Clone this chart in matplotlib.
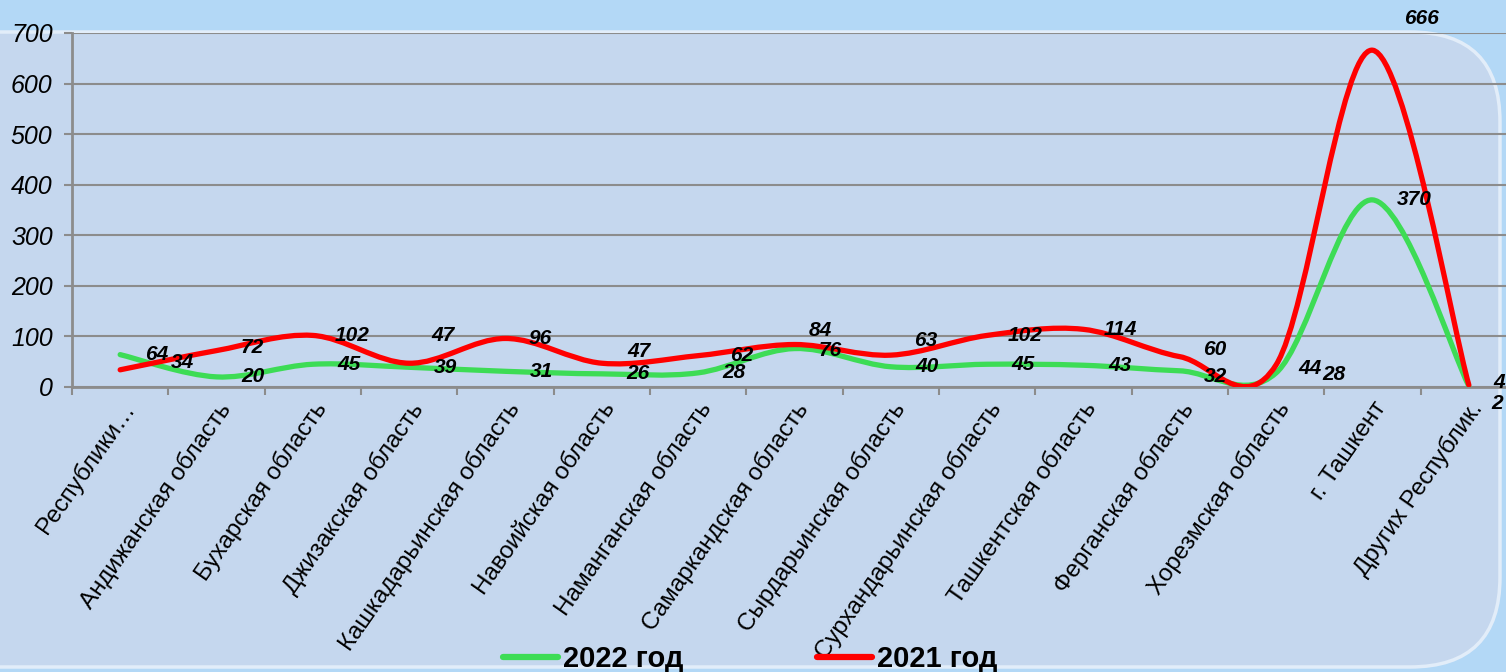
import numpy as np
import matplotlib.pyplot as plt
from matplotlib.path import Path
from matplotlib.patches import PathPatch, FancyBboxPatch
from matplotlib.lines import Line2D
from matplotlib.transforms import IdentityTransform

plt.rcParams['font.family'] = ['Liberation Sans', 'DejaVu Sans']

# Данные
categories = ['Республики…', 'Андижанская область', 'Бухарская область',
              'Джизакская область', 'Кашкадарьинская область', 'Навоийская область',
              'Наманганская область', 'Самаркандская область', 'Сырдарьинская область',
              'Сурхандарьинская область', 'Ташкентская область', 'Ферганская область',
              'Хорезмская область', 'г. Ташкент', 'Других Республик.']
values_2022 = [64, 20, 45, 39, 31, 26, 28, 76, 40, 45, 43, 32, 28, 370, 2]
values_2021 = [34, 72, 102, 47, 96, 47, 62, 84, 63, 102, 114, 60, 44, 666, 4]
series_names = ['2022 год', '2021 год']

# смещения подписей (пиксели)
green_label_off = [(36, 0)] * 7 + [(36, -2)] + [(36, 0)] * 3 + [(36, -6), (58, -2), (42, 0), (28, -18)]
red_label_off = [(62, 7), (36, 3), (39, 0), (34, 28), (35, 0), (37, 12), (43, 0),
                 (26, 14), (35, 15), (38, 0), (37, 0), (35, 7), (34, -4),
                 (49, 32), (30, 2)]

green = '#3ddc55'
red = '#ff0000'
grid_gray = '#8c8c8c'

fig = plt.figure(figsize=(15.06, 6.72), dpi=100)
fig.patch.set_facecolor('#b3d8f6')
panel = FancyBboxPatch((-100, 5), 1600, 635, boxstyle='round,pad=0,rounding_size=90',
                       transform=IdentityTransform(), facecolor='#c5d7ee',
                       edgecolor='#e2edf9', linewidth=2.5, zorder=-5)
fig.add_artist(panel)

ax = fig.add_axes([72 / 1506, 285 / 672, (1517 - 72) / 1506, 354 / 672])
ax.set_zorder(2)
ax.set_facecolor('none')


def smooth_path(vals):
    # сглаженная линия как в Excel (кривые Безье через точки)
    n = len(vals)
    pts = np.column_stack([np.arange(n, dtype=float), np.asarray(vals, dtype=float)])
    verts = [pts[0]]
    codes = [Path.MOVETO]
    for i in range(n - 1):
        p_prev = pts[i - 1] if i > 0 else pts[i]
        p_next = pts[i + 2] if i + 2 < n else pts[i + 1]
        c1 = pts[i] + (pts[i + 1] - p_prev) / 6
        c2 = pts[i + 1] - (p_next - pts[i]) / 6
        verts += [c1, c2, pts[i + 1]]
        codes += [Path.CURVE4] * 3
    return Path(verts, codes)


for vals, color in [(values_2022, green), (values_2021, red)]:
    patch = PathPatch(smooth_path(vals), fill=False, edgecolor=color, lw=3.8,
                      capstyle='round', joinstyle='round', zorder=3)
    ax.add_patch(patch)

label_font = dict(fontsize=15, fontweight='bold', fontstyle='italic', color='black',
                  ha='center', va='center', zorder=5, annotation_clip=False)
for i, v in enumerate(values_2022):
    ax.annotate(str(v), (i, v), xytext=green_label_off[i], textcoords='offset pixels',
                **label_font)
for i, v in enumerate(values_2021):
    ax.annotate(str(v), (i, v), xytext=red_label_off[i], textcoords='offset pixels',
                **label_font)

ax.set_xlim(-0.5, 14.5)
ax.set_ylim(0, 700)
ax.set_yticks(range(0, 701, 100))
ax.set_yticklabels([str(t) for t in range(0, 701, 100)], fontsize=18, fontstyle='italic')
ax.yaxis.grid(True, color=grid_gray, lw=1.5)
ax.set_axisbelow(True)
ax.tick_params(axis='y', pad=8)

ax.set_xticks(np.arange(-0.5, 15, 1))
ax.set_xticklabels([])
ax.set_xticks(np.arange(len(categories)), minor=True)
ax.set_xticklabels(categories, minor=True, rotation=55, ha='right', va='top',
                   rotation_mode='anchor', fontsize=17.5)
ax.tick_params(axis='x', which='minor', length=0, pad=8)
ax.tick_params(axis='both', which='major', length=6, width=1.5, color=grid_gray)

for side in ['top', 'right']:
    ax.spines[side].set_visible(False)
for side in ['left', 'bottom']:
    ax.spines[side].set_color(grid_gray)
    ax.spines[side].set_linewidth(2)

handles = [Line2D([], [], color=green, lw=4.5, solid_capstyle='round'),
           Line2D([], [], color=red, lw=4.5, solid_capstyle='round')]
leg = fig.legend(handles, series_names, loc='center', bbox_to_anchor=(750 / 1506, 1 - 659 / 672),
                 ncol=2, frameon=False, handlelength=1.9, handletextpad=0.15,
                 columnspacing=4.6, prop={'size': 21, 'weight': 'bold'})

fig.savefig('out.png', dpi=100, facecolor=fig.get_facecolor())
